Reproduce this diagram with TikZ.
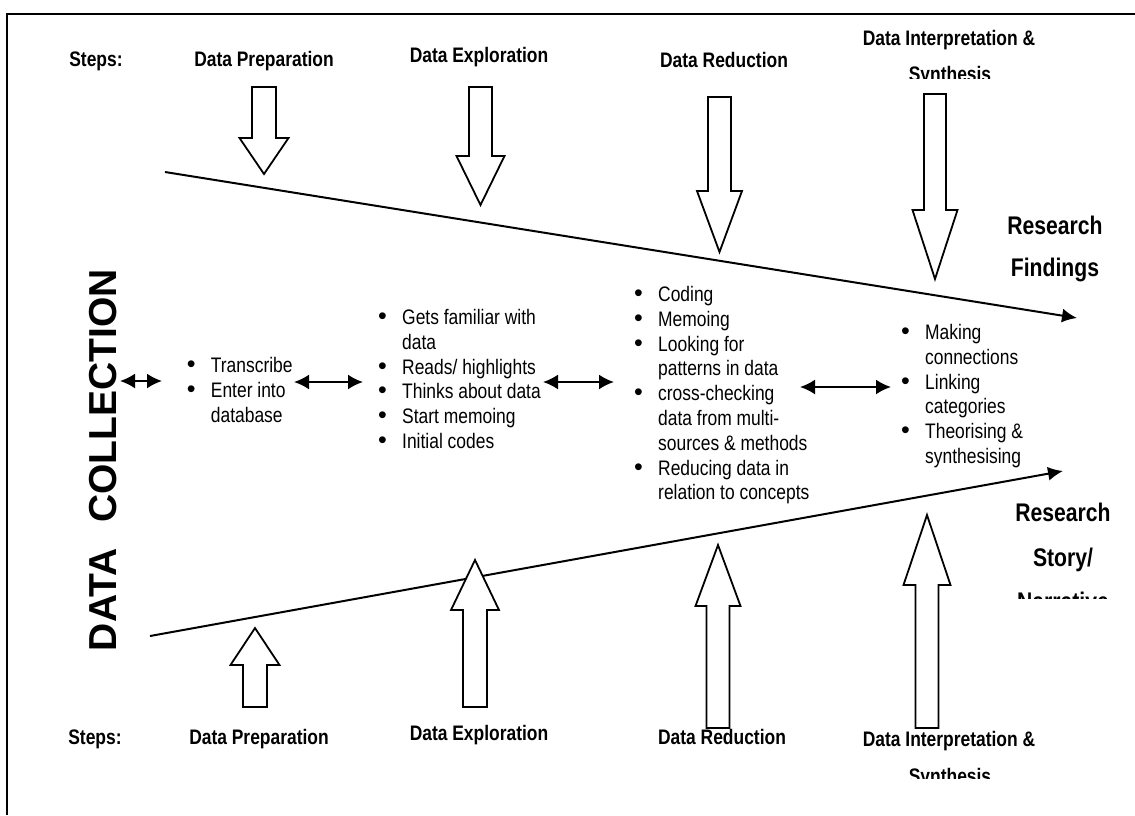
\documentclass[tikz,border=0pt]{standalone}
\usepackage{fontspec}
\setmainfont{Liberation Sans}[FakeStretch=0.83]
\newfontfamily\dcfont{Liberation Sans}
\usetikzlibrary{arrows.meta}
\newcommand\myblk[6]{% x, shaft end y, head base y, tip y, shaft half, head half
  \draw[blk] (#1-#5,#2) -- (#1+#5,#2) -- (#1+#5,#3) -- (#1+#6,#3) -- (#1,#4) -- (#1-#6,#3) -- (#1-#5,#3) -- cycle;}
\tikzset{
  blk/.style={draw=black, line width=1.8pt, fill=white, line join=miter},
  lbl/.style={font=\bfseries\fontsize{21}{24}\selectfont, inner sep=0pt, anchor=base},
  big/.style={font=\bfseries\fontsize{25.5}{28}\selectfont, inner sep=0pt, anchor=base},
  lst/.style={font=\fontsize{21}{24.8}\selectfont, inner sep=0pt, anchor=north west},
  dbl/.style={line width=2pt, {Latex[length=15pt,width=15pt]}-{Latex[length=15pt,width=15pt]}},
  ln/.style={line width=2pt, -{Latex[length=15pt,width=14pt]}},
}
\newcommand\bl{{\dcfont\fontsize{25}{24.8}\selectfont\textbullet}}
\begin{document}
\begin{tikzpicture}[x=1pt,y=-1pt]
\useasboundingbox (0,0) rectangle (1135,815);
% frame
\draw[line width=2pt] (7,815) -- (7,14) -- (1135,14);

% top labels
\node[lbl] (ts) at (96,66.7) {Steps:};
\node[lbl] (tp) at (264,66.7) {Data Preparation};
\node[lbl] (te) at (479,62.5) {Data Exploration};
\node[lbl] (tr) at (724,67) {Data Reduction};
\node[lbl] (ti) at (949,45) {Data Interpretation \&};
\begin{scope}
\clip (850,60) rectangle (1050,78.3);
\node[lbl] (tsy) at (950,81.7) {Synthesis};
\end{scope}

% top block arrows
\myblk{264}{87}{138}{174}{12}{24.5}
\myblk{480.5}{87}{156}{205}{11.5}{24}
\myblk{719.5}{97}{191}{252}{11.5}{22.5}
\myblk{935}{94}{210}{279}{11}{22.5}

% converging lines
\coordinate (u0) at (165,172);
\coordinate (u1) at (1077,318);
\coordinate (l0) at (150,636);
\coordinate (l1) at (1063,471);
\draw[ln] (u0) -- (u1);
\draw[ln] (l0) -- (l1);

% right labels
\node[big] (rf1) at (1055,234) {Research};
\node[big] (rf2) at (1055,276) {Findings};
\node[big] (rs1) at (1063,521.7) {Research};
\node[big] (rs2) at (1063,566.7) {Story/};
\begin{scope}
\clip (990,580) rectangle (1135,598.3);
\node[big] (rs3) at (1063,610) {Narrative};
\end{scope}

% DATA COLLECTION
\node[font=\dcfont\bfseries\fontsize{39}{44}\selectfont, inner sep=0pt, anchor=base, rotate=90] (dc) at (116,460) {DATA\hspace{26pt}COLLECTION};

% lists
\node[lst] (l1n) at (186.7,355) {\begin{tabular}{@{}p{24pt}@{}l@{}}
\bl & Transcribe\\ \bl & Enter into\\ & database\end{tabular}};
\node[lst] (l2n) at (378,307) {\begin{tabular}{@{}p{24pt}@{}l@{}}
\bl & Gets familiar with\\ & data\\ \bl & Reads/ highlights\\ \bl & Thinks about data\\ \bl & Start memoing\\ \bl & Initial codes\end{tabular}};
\node[lst] (l3n) at (634,284) {\begin{tabular}{@{}p{24pt}@{}l@{}}
\bl & Coding\\ \bl & Memoing\\ \bl & Looking for\\ & patterns in data\\ \bl & cross-checking\\ & data from multi-\\ & sources \& methods\\ \bl & Reducing data in\\ & relation to concepts\end{tabular}};
\node[lst] (l4n) at (901,322) {\begin{tabular}{@{}p{24pt}@{}l@{}}
\bl & Making\\ & connections\\ \bl & Linking\\ & categories\\ \bl & Theorising \&\\ & synthesising\end{tabular}};

% double arrows
\coordinate (d1a) at (120,381); \coordinate (d1b) at (162,381);
\coordinate (d2a) at (294,382); \coordinate (d2b) at (363,382);
\coordinate (d3a) at (543,382); \coordinate (d3b) at (614,382);
\coordinate (d4a) at (800,387); \coordinate (d4b) at (891,387);
\draw[dbl] (d1a) -- (d1b);
\draw[dbl] (d2a) -- (d2b);
\draw[dbl] (d3a) -- (d3b);
\draw[dbl] (d4a) -- (d4b);

% bottom block arrows
\myblk{255}{707}{665}{628}{12}{24.5}
\myblk{475}{707}{610}{560}{12}{24}
\myblk{718}{728}{606}{545}{11.5}{22.5}
\myblk{927}{728}{585}{515}{11.5}{23.5}

% bottom labels
\node[lbl] (bs) at (95,744) {Steps:};
\node[lbl] (bp) at (259,744) {Data Preparation};
\node[lbl] (be) at (479,740.5) {Data Exploration};
\node[lbl] (br) at (722,744) {Data Reduction};
\node[lbl] (bi) at (949,746.7) {Data Interpretation \&};
\begin{scope}
\clip (850,760) rectangle (1050,778.3);
\node[lbl] (bsy) at (950,783.3) {Synthesis};
\end{scope}
\end{tikzpicture}
\end{document}
